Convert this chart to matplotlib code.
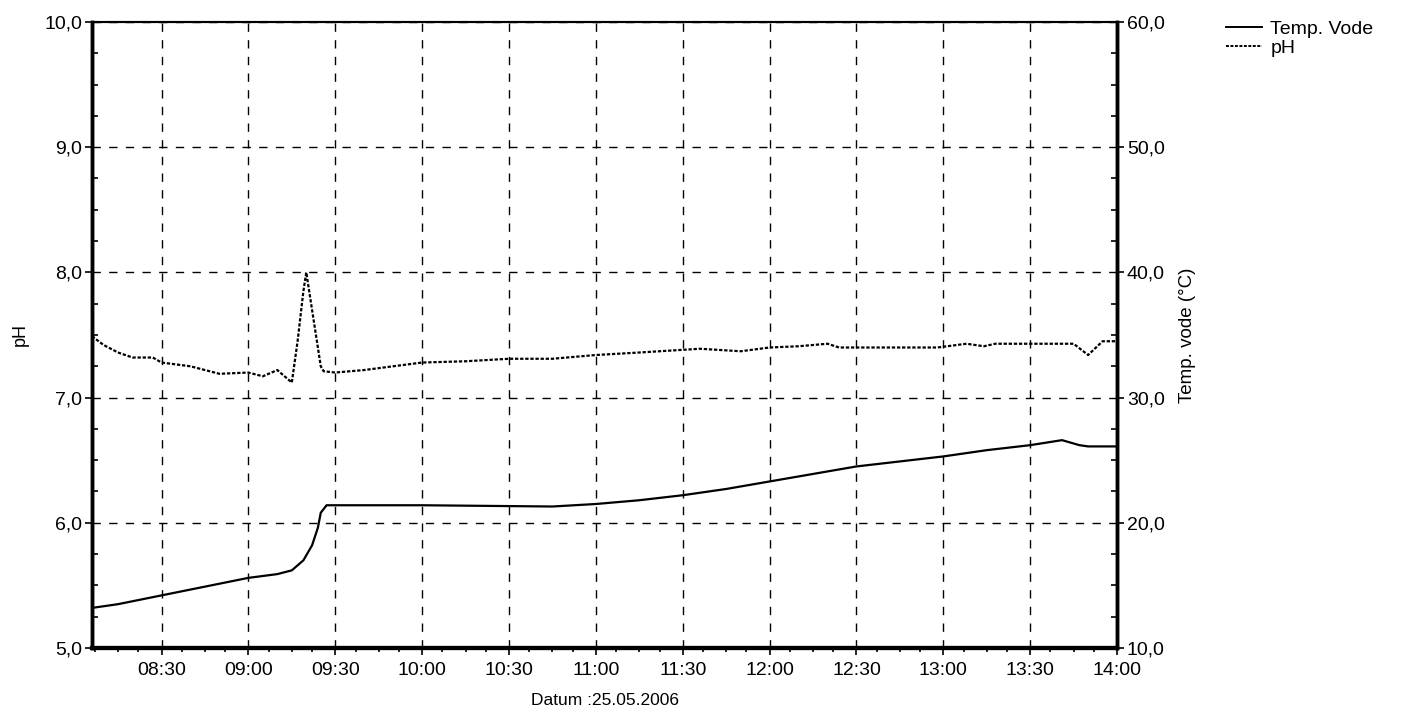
import matplotlib
matplotlib.use("Agg")
import matplotlib.pyplot as plt
import matplotlib.dates as mdates
from matplotlib.ticker import MultipleLocator, FuncFormatter
from matplotlib.lines import Line2D
import pandas as pd

plt.rcParams['font.family'] = ['Liberation Sans', 'DejaVu Sans']

DAY = "2006-05-25 "

ph_times = ["08:06", "08:10", "08:15", "08:20", "08:27", "08:30", "08:40", "08:50",
            "09:00", "09:05", "09:10", "09:15", "09:17", "09:19", "09:20", "09:21",
            "09:23", "09:25", "09:26", "09:30", "09:40", "09:50", "10:00", "10:15",
            "10:30", "10:45", "11:00", "11:15", "11:36", "11:50", "12:00", "12:10",
            "12:20", "12:24", "12:58", "13:08", "13:14", "13:18", "13:45", "13:50",
            "13:55", "14:00"]
ph_values = [7.49, 7.42, 7.36, 7.32, 7.32, 7.28, 7.25, 7.19,
             7.20, 7.17, 7.22, 7.12, 7.45, 7.85, 8.00, 7.85,
             7.55, 7.25, 7.21, 7.20, 7.22, 7.25, 7.28, 7.29,
             7.31, 7.31, 7.34, 7.36, 7.39, 7.37, 7.40, 7.41,
             7.43, 7.40, 7.40, 7.43, 7.41, 7.43, 7.43, 7.34,
             7.45, 7.45]

temp_times = ["08:06", "08:15", "08:30", "08:45", "09:00", "09:10", "09:15", "09:19",
              "09:22", "09:24", "09:25", "09:27", "10:00", "10:45", "11:00", "11:15",
              "11:30", "11:45", "12:00", "12:15", "12:30", "12:45", "13:00", "13:15",
              "13:30", "13:41", "13:47", "13:50", "14:00"]
temp_values = [13.2, 13.5, 14.2, 14.9, 15.6, 15.9, 16.2, 17.0,
               18.2, 19.6, 20.8, 21.4, 21.4, 21.3, 21.5, 21.8,
               22.2, 22.7, 23.3, 23.9, 24.5, 24.9, 25.3, 25.8,
               26.2, 26.6, 26.2, 26.1, 26.1]

x_start, x_end = "08:06", "14:00"
ph_range = (5.0, 10.0)
temp_range = (10.0, 60.0)

ph_t = pd.to_datetime([DAY + t for t in ph_times])
temp_t = pd.to_datetime([DAY + t for t in temp_times])

fig = plt.figure(figsize=(14.09, 7.16), dpi=100)
ax = fig.add_axes([0.0653, 0.0950, 0.7275, 0.8743])
ax2 = ax.twinx()

comma = FuncFormatter(lambda v, p: f"{v:.1f}".replace(".", ","))

ax.plot(ph_t, ph_values, color="black", lw=1.6, linestyle=(0, (1.5, 0.8)), zorder=3)
ax2.plot(temp_t, temp_values, color="black", lw=1.6, linestyle="-", zorder=3)

ax.set_xlim(pd.Timestamp(DAY + x_start), pd.Timestamp(DAY + x_end))
ax.set_ylim(*ph_range)
ax2.set_ylim(*temp_range)

ax.xaxis.set_major_locator(mdates.MinuteLocator(byminute=[0, 30]))
ax.xaxis.set_major_formatter(mdates.DateFormatter("%H:%M"))
ax.xaxis.set_minor_locator(mdates.MinuteLocator(byminute=[0, 7, 15, 22, 30, 37, 45, 52]))

ax.yaxis.set_major_locator(MultipleLocator(1.0))
ax.yaxis.set_minor_locator(MultipleLocator(0.25))
ax.yaxis.set_major_formatter(comma)
ax2.yaxis.set_major_locator(MultipleLocator(10.0))
ax2.yaxis.set_minor_locator(MultipleLocator(2.5))
ax2.yaxis.set_major_formatter(comma)

ax.grid(True, which="major", color="black", lw=1.0, linestyle=(0, (6, 6)))

ax.tick_params(axis="both", which="major", direction="out", length=5, width=1.2,
               labelsize=14, colors="black")
ax.tick_params(axis="y", which="minor", direction="in", length=4, width=1.2)
ax.tick_params(axis="x", which="minor", direction="out", length=3, width=1.2)
ax.tick_params(axis="x", which="major", pad=5)
ax.tick_params(axis="y", which="major", pad=2)
ax2.tick_params(axis="y", which="major", direction="out", length=5, width=1.2,
                labelsize=14, pad=2)
ax2.tick_params(axis="y", which="minor", direction="in", length=4, width=1.2)

for a in (ax, ax2):
    a.spines["left"].set_linewidth(2.5)
    a.spines["right"].set_linewidth(2.5)
    a.spines["bottom"].set_linewidth(3.0)
    a.spines["top"].set_linewidth(1.5)

ax.set_ylabel("pH", fontsize=13)
ax.yaxis.set_label_coords(-0.062, 0.5)
ax2.set_ylabel("Temp. vode (°C)", fontsize=13.5, labelpad=10)
ax.set_xlabel("Datum :25.05.2006", fontsize=12.5, labelpad=10)

handles = [Line2D([], [], color="black", lw=1.4, linestyle="-"),
           Line2D([], [], color="black", lw=1.4, linestyle=(0, (1.5, 0.8)))]
fig.legend(handles, ["Temp. Vode", "pH"], loc="upper left",
           bbox_to_anchor=(0.863, 0.985), frameon=False, fontsize=14,
           handlelength=1.85, handletextpad=0.45, labelspacing=0.05, borderpad=0)

fig.savefig("out.png", dpi=100, facecolor="white")
